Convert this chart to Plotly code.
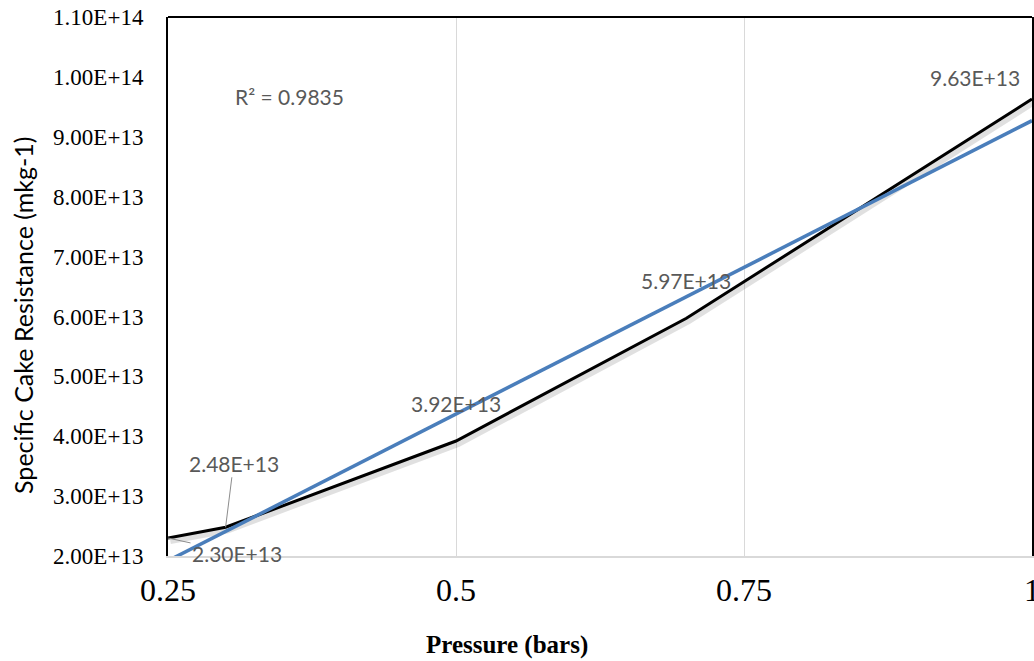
import numpy as np
import plotly.graph_objects as go

# Measured specific cake resistance vs. applied pressure
pressure = [0.25, 0.3, 0.5, 0.7, 1.0]            # bars
resistance = [2.30e13, 2.48e13, 3.92e13, 5.97e13, 9.63e13]  # m/kg

x_ticks = [0.25, 0.5, 0.75, 1.0]
x_tick_text = ["0.25", "0.5", "0.75", "1"]
y_ticks = [2e13, 3e13, 4e13, 5e13, 6e13, 7e13, 8e13, 9e13, 1e14, 1.1e14]
y_tick_text = [f"{v:.2E}" for v in y_ticks]

# Linear trendline and its coefficient of determination
slope, intercept = np.polyfit(pressure, resistance, 1)
pred = slope * np.array(pressure) + intercept
ss_res = np.sum((np.array(resistance) - pred) ** 2)
ss_tot = np.sum((np.array(resistance) - np.mean(resistance)) ** 2)
r2 = 1 - ss_res / ss_tot
trend_x = [x_ticks[0], x_ticks[-1]]
trend_y = [slope * v + intercept for v in trend_x]

LABEL_FONT = dict(family="Lato, Liberation Sans, sans-serif", size=21, color="#595959")

fig = go.Figure()

# soft drop shadow beneath the measured series
fig.add_trace(go.Scatter(
    x=[v + 0.002 for v in pressure], y=[v - 0.05e13 for v in resistance],
    mode="lines", line=dict(color="rgba(0,0,0,0.12)", width=6),
    hoverinfo="skip", showlegend=False))

fig.add_trace(go.Scatter(
    x=pressure, y=resistance, mode="lines",
    line=dict(color="black", width=3), showlegend=False))

fig.add_trace(go.Scatter(
    x=trend_x, y=trend_y, mode="lines",
    line=dict(color="#4a7ebb", width=3.5), showlegend=False))

# data labels: (dx, dy, leader) offsets in pixels per point
label_offsets = [(69, 15, True), (8, -64, True), (0, -38, False), (0, -38, False), (-57, -22, False)]
for xv, yv, (dx, dy, leader) in zip(pressure, resistance, label_offsets):
    if leader:
        fig.add_annotation(x=xv, y=yv, text=f"{yv:.2E}", showarrow=True,
                           ax=dx, ay=dy, arrowhead=0, arrowwidth=1,
                           arrowcolor="#8c8c8c", standoff=0, font=LABEL_FONT)
    else:
        fig.add_annotation(x=xv, y=yv, text=f"{yv:.2E}", showarrow=False,
                           xshift=dx, yshift=-dy, font=LABEL_FONT)

fig.add_annotation(xref="paper", yref="paper", x=0.141, y=0.853,
                   xanchor="center", yanchor="middle",
                   text=f"R² = {r2:.4f}", showarrow=False, font=LABEL_FONT)

fig.add_annotation(xref="paper", yref="paper", x=-0.168, y=0.447,
                   xanchor="center", yanchor="middle",
                   text="Specific Cake Resistance (mkg-1)", textangle=-90,
                   showarrow=False,
                   font=dict(family="Lato, Liberation Sans, sans-serif", size=25, color="black"))

fig.add_annotation(xref="paper", yref="paper", x=0.392, y=-0.166,
                   xanchor="center", yanchor="middle", borderpad=0,
                   text="<b>Pressure (bars)</b>", showarrow=False,
                   font=dict(family="Liberation Serif, Times New Roman, serif", size=25, color="black"))

# top border of the plot frame
fig.add_shape(type="line", xref="paper", yref="paper", x0=0, x1=1, y0=1, y1=1,
              line=dict(color="black", width=2))

fig.update_xaxes(
    range=[x_ticks[0], x_ticks[-1]], tickvals=x_ticks, ticktext=x_tick_text,
    showgrid=True, gridcolor="#d9d9d9", gridwidth=1,
    showline=True, linecolor="#d9d9d9", linewidth=2,
    ticks="", ticklabelstandoff=5, ticklabeloverflow="allow", zeroline=False,
    automargin=False,
    tickfont=dict(family="Liberation Serif, Times New Roman, serif", size=32, color="black"))

fig.update_yaxes(
    range=[y_ticks[0], y_ticks[-1]], tickvals=y_ticks, ticktext=y_tick_text,
    showgrid=False, showline=True, linecolor="black", linewidth=2, mirror=True,
    ticks="", ticklabelstandoff=18, zeroline=False, automargin=False,
    tickfont=dict(family="Liberation Serif, Times New Roman, serif", size=23, color="black"))

fig.update_layout(
    width=1034, height=661,
    margin=dict(l=168, r=2, t=17, b=105),
    plot_bgcolor="white", paper_bgcolor="white",
    showlegend=False)

fig.write_html("out.html")
